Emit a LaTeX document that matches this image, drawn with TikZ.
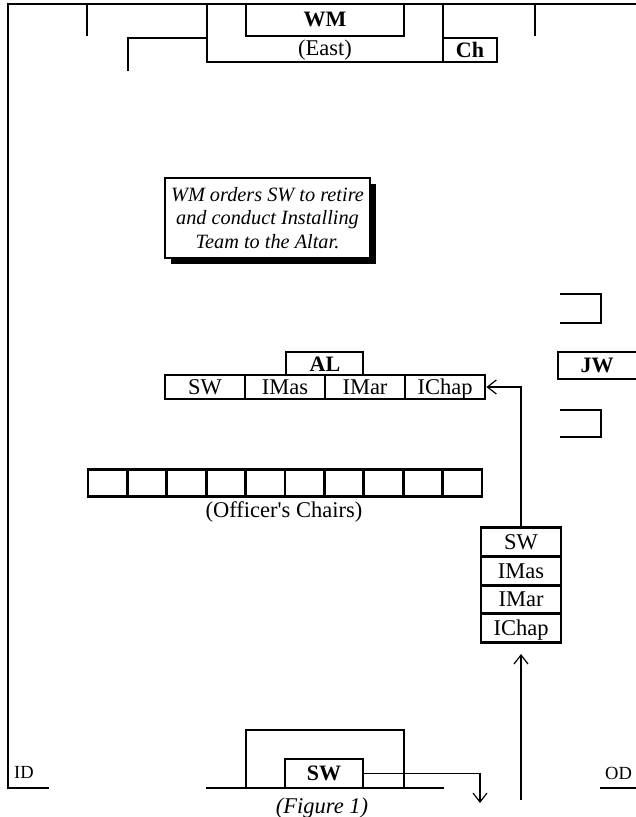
\documentclass[tikz,border=0pt]{standalone}
\usepackage{fontspec}
\setmainfont{Liberation Serif}
\newfontfamily\plainserif{Liberation Serif}
\usetikzlibrary{arrows.meta,shadows}
\begin{document}
\begin{tikzpicture}[x=1pt,y=-1pt,
  wall/.style={line width=2.8pt, line cap=rect},
  lbl/.style={inner sep=0pt, font=\fontsize{22.5}{27}\selectfont},
  blbl/.style={inner sep=0pt, text height=14.5pt, text depth=0pt, font=\fontsize{22}{26}\selectfont\bfseries},
  smalllbl/.style={inner sep=0pt, font=\fontsize{18.5}{22}\selectfont},
  cell/.style={draw, line width=2.8pt, minimum width=80pt, minimum height=24pt, inner sep=0pt, text height=14.9pt, text depth=0pt, font=\fontsize{22.5}{27}\selectfont},
  stackcell/.style={draw, line width=2.8pt, minimum width=80pt, minimum height=28.75pt, inner sep=0pt, text height=14.9pt, text depth=0pt, font=\fontsize{22.5}{27}\selectfont},
  chair/.style={draw, line width=2.8pt, minimum width=39.4pt, minimum height=27pt, inner sep=0pt},
  arr/.style={line width=1.2pt, -{Straight Barb[length=9pt,width=14pt,line width=1.2pt]}},
  note/.style={draw, line width=1.3pt, fill=white, minimum width=205pt, minimum height=80pt, align=center, inner sep=0pt,
    font=\fontsize{20.3}{23.5}\selectfont\itshape,
    drop shadow={shadow xshift=6pt, shadow yshift=-6pt, fill=black, opacity=1}}
]
\useasboundingbox (0,0) rectangle (635,817);

% outer frame
\draw[wall] (635,4) -- (8,4) -- (8,788) -- (48,788);
\draw[wall] (601,788) -- (635,788);
\node[smalllbl, anchor=base west] (id) at (14,778) {ID};
\node[smalllbl, anchor=base west] (od) at (605,779) {OD};

% top (East) structure
\draw[wall] (87,4) -- (87,35);
\draw[wall] (128,70) -- (128,38) -- (207,38);
\draw[wall] (207,4) -- (207,62) -- (497,62) -- (497,38) -- (443,38);
\draw[wall] (443,4) -- (443,62);
\draw[wall] (246,4) -- (246,36) -- (404,36) -- (404,4);
\draw[wall] (535,4) -- (535,35);
\node[blbl] (wm) at (325,19) {WM};
\node[lbl] (east) at (325,50) {(East)};
\node[blbl] (ch) at (470,50) {Ch};

% note
\node[note] (nt) at (267.5,218) {WM orders SW to retire\\and conduct Installing\\Team to the Altar.};

% altar and row
\draw[wall] (286,375) -- (286,352) -- (363,352) -- (363,375);
\node[blbl] (al) at (325,364) {AL};
\node[cell] (sw) at (205,387) {SW};
\node[cell] (imas) at (285,387) {IMas};
\node[cell] (imar) at (365,387) {IMar};
\node[cell] (ichap) at (445,387) {IChap};

% JW and right brackets
\draw[wall] (561,294) -- (601,294) -- (601,323) -- (561,323);
\draw[wall] (635,352) -- (558,352) -- (558,379) -- (635,379);
\node[blbl] (jw) at (597,365.5) {JW};
\draw[wall] (561,410) -- (601,410) -- (601,437) -- (561,437);

% officer's chairs
\foreach \i in {0,...,9} {
  \node[chair] (c\i) at ({107.7+39.4*\i},483) {};
}
\node[lbl] (oc) at (284,512) {\plainserif (Officer's Chairs)};

% stack
\node[stackcell] (s1) at (521,542) {SW};
\node[stackcell] (s2) at (521,570.75) {IMas};
\node[stackcell] (s3) at (521,599.5) {IMar};
\node[stackcell] (s4) at (521,628.25) {IChap};

\draw[arr] (s1.north) |- (ichap.east);
\coordinate (upstart) at (521,800);
\draw[arr, shorten >=10pt] (upstart) -- (s4.south);

% west
\draw[wall] (207,788) -- (443,788);
\draw[wall] (246,788) -- (246,730) -- (404,730) -- (404,788);
\node[draw, line width=2.8pt, minimum width=78pt, minimum height=29pt, inner sep=0pt, text height=14.5pt, text depth=0pt, font=\fontsize{22}{26}\selectfont\bfseries] (swb) at (324,773.5) {SW};
\coordinate (swend) at (480,803);
\draw[arr] (swb.east) -| (swend);
\node[inner sep=0pt, font=\fontsize{22.5}{27}\selectfont\itshape] (fig) at (322,808) {(Figure 1)};
\end{tikzpicture}
\end{document}
